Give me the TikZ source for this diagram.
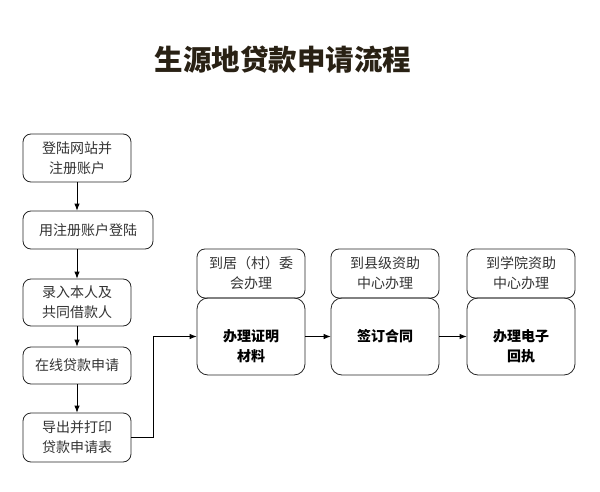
\documentclass[tikz,border=0pt]{standalone}
\usepackage{fontspec}
\setmainfont{Noto Sans CJK SC}
\usetikzlibrary{arrows.meta,positioning,calc}
\definecolor{titlebrown}{RGB}{41,33,20}
\begin{document}
\begin{tikzpicture}[x=1pt, y=-1pt, >={Latex[length=7pt,width=5.5pt]},
  flowbox/.style={draw=black!85, line width=0.8pt, rounded corners=8pt, inner sep=0pt,
    minimum width=108pt, align=center, text=black!80, font=\fontsize{14}{20}\selectfont},
  mainbox/.style={draw=black!85, line width=0.8pt, rounded corners=11pt, inner sep=0pt,
    minimum width=108pt, minimum height=77pt},
  maintext/.style={align=center, font=\fontsize{14}{20}\bfseries\selectfont},
  link/.style={->, line width=0.8pt, black}]

  \useasboundingbox (0,0) rectangle (600,492);

  % ---------- Title ----------
  \node[titlebrown, font=\fontsize{28.5}{32}\bfseries\selectfont] (title) at (283,60) {生源地贷款申请流程};

  % ---------- Online steps (left column) ----------
  \node[flowbox, minimum height=48pt] (login) at (77,158) {登陆网站并\\注册账户};
  \node[flowbox, minimum width=130pt, minimum height=38pt] (signin) at (88,230) {用注册账户登陆};
  \node[flowbox, minimum height=47pt] (input) at (77,302.5) {录入本人及\\共同借款人};
  \node[flowbox, minimum height=37pt] (apply) at (77,365.5) {在线贷款申请};
  \node[flowbox, minimum height=49pt] (print) at (77,437.5) {导出并打印\\贷款申请表};

  \draw[link] (login.south) -- (login.south |- signin.north);
  \draw[link] (signin.south -| input.north) -- (input.north);
  \draw[link] (input.south) -- (apply.north);
  \draw[link] (apply.south) -- (print.north);

  % ---------- Offline steps (right row) ----------
  \node[flowbox, minimum height=49pt] (where1) at (251,273.5) {到居（村）委\\会办理};
  \node[flowbox, minimum height=49pt] (where2) at (385,273.5) {到县级资助\\中心办理};
  \node[flowbox, minimum height=49pt] (where3) at (521,273.5) {到学院资助\\中心办理};

  \node[mainbox] (proof) at (251,336.5) {};
  \node[mainbox] (contract) at (385,336.5) {};
  \node[mainbox] (receipt) at (521,336.5) {};

  \node[maintext] (prooftext) at ($(proof.center)+(0,10)$) {办理证明\\材料};
  \node[maintext] (contracttext) at (contract.center) {签订合同};
  \node[maintext] (receipttext) at ($(receipt.center)+(0,10)$) {办理电子\\回执};

  % ---------- Connectors ----------
  \coordinate (turn) at (153,437.5);
  \draw[link] (print.east) -- (turn) |- (proof.west);
  \draw[link] (proof.east) -- (contract.west);
  \draw[link] (contract.east) -- (receipt.west);

\end{tikzpicture}
\end{document}
